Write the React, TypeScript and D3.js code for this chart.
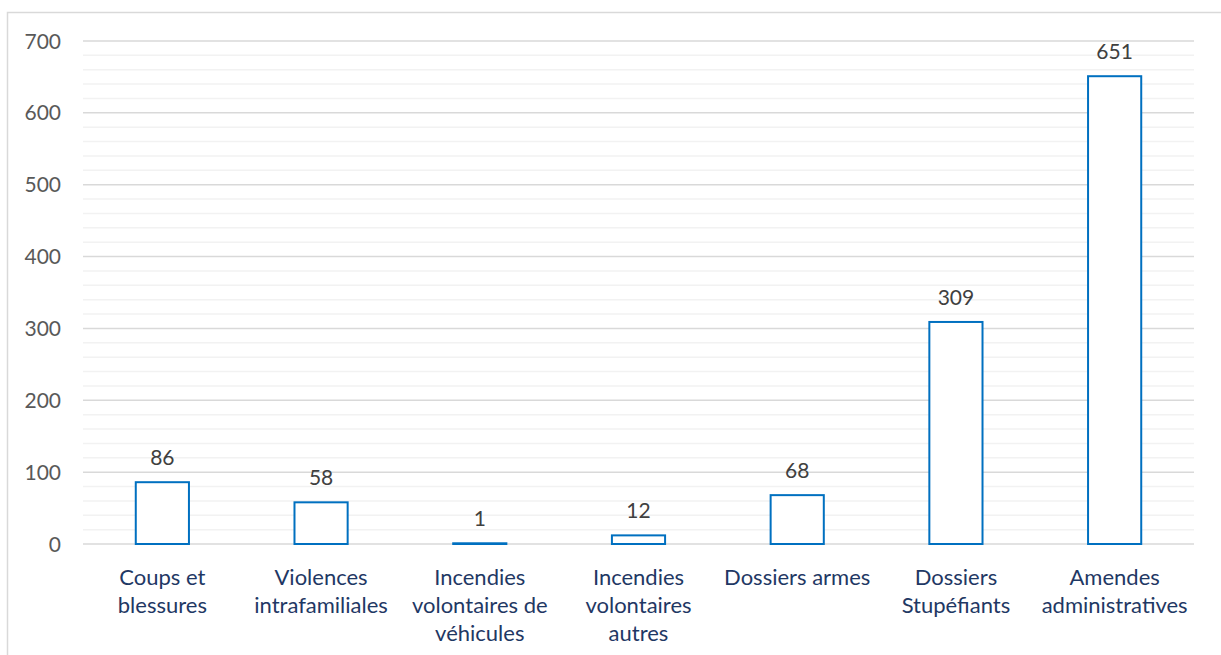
import React, { useEffect, useRef } from 'react';
import * as d3 from 'd3';

const categories = [
  ['Coups et', 'blessures'],
  ['Violences', 'intrafamiliales'],
  ['Incendies', 'volontaires de', 'véhicules'],
  ['Incendies', 'volontaires', 'autres'],
  ['Dossiers armes'],
  ['Dossiers', 'Stupéfiants'],
  ['Amendes', 'administratives'],
];
const values = [86, 58, 1, 12, 68, 309, 651];
const majorTicks = [0, 100, 200, 300, 400, 500, 600, 700];
const minorTicks = d3.range(0, 701, 20);

const W = 1221;
const H = 655;
const plot = { left: 83, right: 1194, top: 41, bottom: 544 };
const font = 'Lato, "Open Sans", sans-serif';

const App = () => {
  const ref = useRef<SVGSVGElement>(null);

  useEffect(() => {
    if (!ref.current) return;
    const svg = d3.select(ref.current);
    svg.selectAll('*').remove();

    // outer frame
    svg.append('rect')
      .attr('x', 7.5).attr('y', 12.5)
      .attr('width', W).attr('height', H)
      .attr('fill', '#fff').attr('stroke', '#d9d9d9').attr('stroke-width', 1.5);

    const x = d3.scaleBand<number>()
      .domain(d3.range(categories.length))
      .range([plot.left, plot.right])
      .paddingInner(0.665).paddingOuter(0.3325);

    const y = d3.scaleLinear().domain([0, 700]).range([plot.bottom, plot.top]);

    // minor grid
    svg.append('g').selectAll('line')
      .data(minorTicks.filter(t => t % 100 !== 0))
      .join('line')
      .attr('x1', plot.left).attr('x2', plot.right)
      .attr('y1', d => y(d)).attr('y2', d => y(d))
      .attr('stroke', '#f2f2f2').attr('stroke-width', 1.5);

    // major grid
    svg.append('g').selectAll('line')
      .data(majorTicks)
      .join('line')
      .attr('x1', plot.left).attr('x2', plot.right)
      .attr('y1', d => y(d)).attr('y2', d => y(d))
      .attr('stroke', '#d9d9d9').attr('stroke-width', 1.5);

    // y tick labels
    svg.append('g').selectAll('text')
      .data(majorTicks)
      .join('text')
      .attr('x', 61).attr('y', d => y(d))
      .attr('dy', '0.36em')
      .attr('text-anchor', 'end')
      .attr('font-family', font).attr('font-size', 21)
      .attr('fill', '#595959')
      .text(d => d);

    // bars
    svg.append('g').selectAll('rect')
      .data(values)
      .join('rect')
      .attr('x', (_, i) => x(i)!)
      .attr('width', x.bandwidth())
      .attr('y', d => y(d))
      .attr('height', d => y(0) - y(d))
      .attr('fill', '#fff')
      .attr('stroke', '#0070c0').attr('stroke-width', 2);

    // value labels
    svg.append('g').selectAll('text')
      .data(values)
      .join('text')
      .attr('x', (_, i) => x(i)! + x.bandwidth() / 2)
      .attr('y', d => y(d) - 17)
      .attr('text-anchor', 'middle')
      .attr('font-family', font).attr('font-size', 21)
      .attr('fill', '#404040')
      .text(d => d);

    // category labels
    const cat = svg.append('g').selectAll('text')
      .data(categories)
      .join('text')
      .attr('text-anchor', 'middle')
      .attr('font-family', font).attr('font-size', 22)
      .attr('fill', '#1f3864');
    cat.each(function (lines, i) {
      d3.select(this).selectAll('tspan')
        .data(lines)
        .join('tspan')
        .attr('x', x(i)! + x.bandwidth() / 2)
        .attr('y', (_, j) => plot.bottom + 41 + j * 28)
        .text(d => d);
    });
  }, []);

  return (
    <svg ref={ref} width={W} height={H}
      style={{ position: 'absolute', left: 0, top: 0, background: '#fff' }} />
  );
};

export default App;
